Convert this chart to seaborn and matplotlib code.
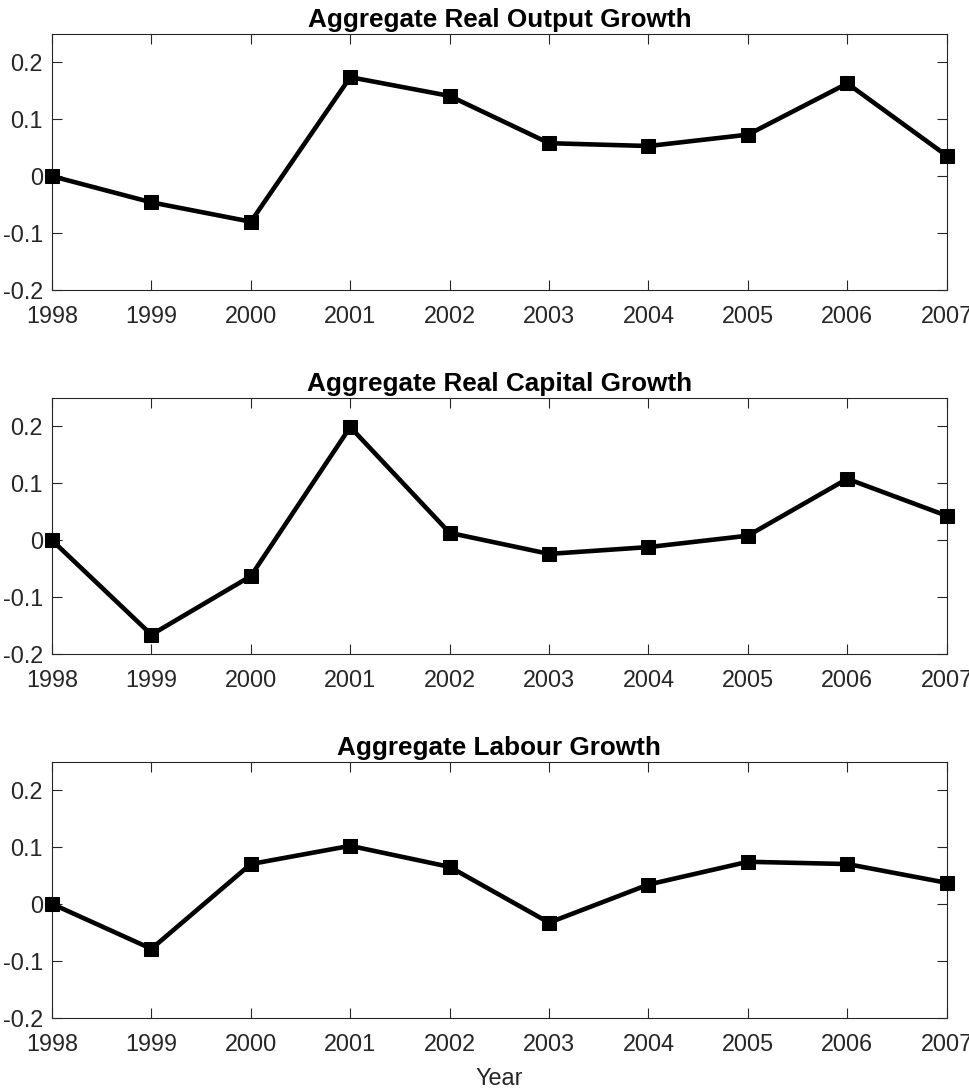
import matplotlib
matplotlib.use("Agg")
import matplotlib.pyplot as plt
import seaborn as sns
import pandas as pd

years = [1998, 1999, 2000, 2001, 2002, 2003, 2004, 2005, 2006, 2007]
output_growth = [0.0, -0.046, -0.080, 0.174, 0.141, 0.058, 0.053, 0.073, 0.163, 0.036]
capital_growth = [0.0, -0.166, -0.063, 0.199, 0.013, -0.024, -0.012, 0.008, 0.108, 0.043]
labour_growth = [0.0, -0.079, 0.070, 0.102, 0.065, -0.033, 0.034, 0.074, 0.070, 0.037]
titles = ["Aggregate Real Output Growth", "Aggregate Real Capital Growth", "Aggregate Labour Growth"]
y_ticks = [-0.2, -0.1, 0, 0.1, 0.2]
y_tick_labels = ["-0.2", "-0.1", "0", "0.1", "0.2"]

sns.set_theme(style="white")
plt.rcParams["font.family"] = ["Liberation Sans", "DejaVu Sans"]

fig = plt.figure(figsize=(9.7, 10.91), dpi=100)
bottoms = [0.7342, 0.4005, 0.0672]
left, width, height = 0.0536, 0.9224, 0.2347

series = [output_growth, capital_growth, labour_growth]
axis_color = "#262626"
for i, (vals, title, b) in enumerate(zip(series, titles, bottoms)):
    ax = fig.add_axes([left, b, width, height])
    df = pd.DataFrame({"Year": years, "Growth": vals})
    sns.lineplot(data=df, x="Year", y="Growth", ax=ax, color="black",
                 linewidth=3.3, marker="s", markersize=9.5, markeredgecolor="black",
                 markerfacecolor="black", clip_on=False, zorder=3)
    ax.set_xlim(1998, 2007)
    ax.set_ylim(-0.2, 0.25)
    ax.set_xticks(years)
    ax.set_xticklabels([str(y) for y in years])
    ax.set_yticks(y_ticks)
    ax.set_yticklabels(y_tick_labels)
    ax.tick_params(direction="in", length=7, width=0.8, colors=axis_color,
                   labelsize=16.8, top=True, right=True, bottom=True, left=True,
                   labelcolor="#262626")
    ax.tick_params(axis="x", pad=11)
    ax.tick_params(axis="y", pad=6.5)
    for sp in ax.spines.values():
        sp.set_color(axis_color)
        sp.set_linewidth(0.8)
        sp.set_visible(True)
    ax.set_title(title, fontsize=18.8, fontweight="bold", pad=5, color="black")
    ax.set_ylabel("")
    if i == 2:
        ax.set_xlabel("Year", fontsize=16.8, color="#262626", labelpad=8)
    else:
        ax.set_xlabel("")

fig.savefig("out.png", dpi=100)
